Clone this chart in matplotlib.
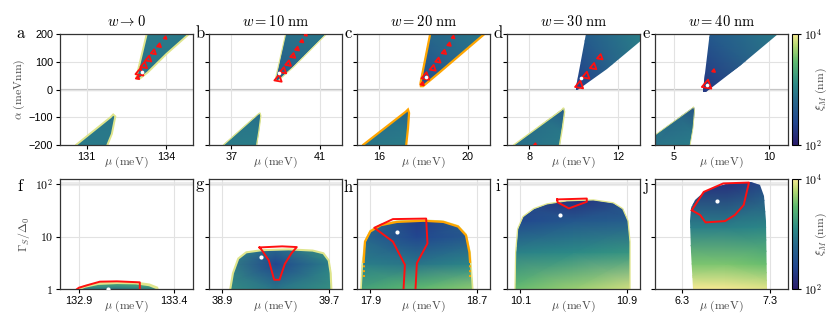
import numpy as np
import matplotlib
matplotlib.use("Agg")
import matplotlib.pyplot as plt
from matplotlib.colors import LinearSegmentedColormap, Normalize, LogNorm
from matplotlib.patches import Polygon
from matplotlib.colorbar import ColorbarBase
from matplotlib.ticker import NullLocator

plt.rcParams["mathtext.fontset"] = "cm"
plt.rcParams["font.family"] = ["Liberation Sans", "DejaVu Sans"]

# ---------------- top row: alpha vs mu ----------------
titles = [r"$w \to 0$", r"$w = 10\ \mathrm{nm}$", r"$w = 20\ \mathrm{nm}$",
          r"$w = 30\ \mathrm{nm}$", r"$w = 40\ \mathrm{nm}$"]
top_letters = ["a", "b", "c", "d", "e"]
top_xlim = [(130, 135), (36, 42), (15, 21), (7, 13), (4, 11)]
top_xticks = [[131, 134], [37, 41], [16, 20], [8, 12], [5, 10]]
alpha_ticks = [-200, -100, 0, 100, 200]

upper_wedges = [
    [(132.88, 48), (132.9, 40), (132.98, 38), (133.3, 62), (134.0, 128), (134.85, 200), (134.9, 240), (133.36, 240)],
    [(39.0, 40), (39.03, 32), (39.12, 32), (39.8, 80), (41.3, 200), (41.5, 240), (39.57, 240)],
    [(17.86, 22), (17.88, 12), (17.98, 12), (18.7, 60), (20.75, 200), (20.9, 240), (18.4, 240)],
    [(10.1, 10), (10.13, 0), (10.25, 2), (11.5, 75), (13.4, 200), (13.8, 240), (10.66, 240)],
    [(6.52, 0), (6.55, -10), (6.68, -8), (8.5, 90), (10.49, 200), (10.8, 240), (6.93, 240)],
]
lower_wedges = [
    [(130.45, -240), (130.6, -200), (131.9, -100), (132.0, -90), (132.08, -97), (131.95, -160), (131.78, -200), (131.72, -240)],
    [(36.5, -240), (36.65, -200), (38.2, -90), (38.3, -84), (38.34, -95), (38.25, -150), (38.15, -200), (38.12, -240)],
    [(15.1, -240), (15.27, -200), (17.2, -80), (17.3, -72), (17.35, -85), (17.3, -140), (17.22, -200), (17.2, -240)],
    [(7.1, -240), (7.3, -200), (9.45, -75), (9.55, -66), (9.6, -80), (9.5, -140), (9.37, -200), (9.35, -240)],
    [(2.4, -240), (4.0, -164), (5.95, -68), (6.03, -62), (6.08, -75), (6.0, -140), (5.85, -200), (5.82, -240)],
]
top_mu_nodes = [[130, 132.9, 135], [36, 39.05, 42], [15, 17.9, 21], [7, 10.15, 13], [4, 6.6, 11]]
top_alpha_nodes = [-200, 0, 200]
top_log_xi = [
    [[2.95, 2.95, 2.95], [2.95, 2.85, 2.95], [2.95, 2.95, 2.95]],
    [[2.95, 3.0, 3.0], [3.0, 2.6, 2.9], [3.0, 2.85, 2.95]],
    [[2.9, 3.0, 3.0], [3.0, 2.45, 2.9], [3.0, 2.75, 2.95]],
    [[2.85, 3.0, 3.0], [3.1, 2.35, 2.9], [3.0, 2.6, 3.0]],
    [[2.9, 3.0, 3.0], [2.95, 2.25, 2.9], [3.0, 2.6, 3.0]],
]
loop_mu = [
    [132.92, 133.0, 133.16, 133.33, 133.52, 133.73, 133.96],
    [39.13, 39.35, 39.58, 39.79, 39.98, 40.19, 40.37],
    [17.95, 18.1, 18.43, 18.66, 18.93, 19.16, 19.34],
    [10.27, 10.57, 10.9, 11.2, 8.27],
    [6.74, 7.09],
]
loop_alpha = [
    [42, 61, 86, 109, 134, 158, 186],
    [38, 67, 93, 121, 146, 174, 197],
    [20, 46, 76, 104, 134, 162, 188],
    [15, 49, 82, 116, -200],
    [16, 67],
]
top_dot_mu = [133.07, 39.16, 18.13, 10.36, 6.74]
top_dot_alpha = [62, 60, 46, 40, 18]

# ---------------- bottom row: Gamma_S/Delta_0 vs mu ----------------
bottom_letters = ["f", "g", "h", "i", "j"]
bottom_xlim = [(132.8, 133.5), (38.8, 39.8), (17.8, 18.8), (10.0, 11.0), (6.0, 7.5)]
bottom_xticks = [[132.9, 133.4], [38.9, 39.7], [17.9, 18.7], [10.1, 10.9], [6.3, 7.3]]
gamma_ticks = [1, 10, 100]
gamma_ticklabels = [r"$1$", r"$10$", r"$10^2$"]

domes = [
    [(132.9, 0.8), (132.9, 1.0), (132.93, 1.12), (133.0, 1.27), (133.1, 1.32), (133.2, 1.3),
     (133.27, 1.2), (133.31, 1.05), (133.32, 0.8)],
    [(38.96, 0.8), (38.96, 1.0), (38.98, 2.0), (39.02, 3.8), (39.08, 5.0), (39.2, 5.5), (39.4, 5.7),
     (39.58, 5.4), (39.66, 4.8), (39.7, 3.5), (39.715, 2.0), (39.72, 1.0), (39.72, 0.8)],
    [(17.83, 0.8), (17.83, 1.0), (17.84, 3.0), (17.86, 8), (17.9, 13), (17.98, 17), (18.1, 19.5),
     (18.3, 20.5), (18.45, 19.5), (18.56, 16), (18.62, 11), (18.65, 5), (18.67, 1.0), (18.67, 0.8)],
    [(10.06, 0.8), (10.06, 1), (10.065, 5), (10.08, 14), (10.12, 24), (10.2, 34), (10.3, 42),
     (10.45, 48), (10.65, 50), (10.8, 44), (10.87, 34), (10.91, 20), (10.925, 8), (10.925, 1), (10.925, 0.8)],
    [(6.43, 0.8), (6.43, 1), (6.41, 5), (6.396, 20), (6.41, 35), (6.45, 50), (6.55, 72), (6.7, 92),
     (6.9, 104), (7.08, 108), (7.18, 95), (7.23, 60), (7.25, 20), (7.265, 1), (7.265, 0.8)],
]
bottom_mu_nodes = [[132.8, 133.1, 133.5], [38.8, 39.3, 39.8], [17.8, 18.25, 18.8],
                   [10.0, 10.5, 11.0], [6.0, 6.8, 7.5]]
bottom_gamma_nodes = [[1, 1.3, 125], [1, 3, 6, 125], [1, 3, 10, 20, 125],
                      [1, 5, 20, 50, 125], [1, 3, 15, 100, 125]]
bottom_log_xi = [
    [[3.1, 2.9, 3.2], [3.4, 3.4, 3.5], [3.5, 3.5, 3.5]],
    [[3.2, 2.9, 3.2], [3.2, 2.4, 3.1], [3.2, 2.8, 3.3], [3.3, 3.3, 3.3]],
    [[3.3, 3.5, 3.7], [3.0, 2.9, 3.1], [2.8, 2.4, 2.7], [3.0, 2.3, 2.9], [3.0, 2.9, 3.0]],
    [[3.5, 3.7, 3.9], [3.0, 3.1, 3.2], [2.4, 2.6, 2.7], [2.7, 2.2, 2.6], [2.7, 2.4, 2.7]],
    [[4.0, 4.0, 3.9], [3.6, 3.6, 3.5], [3.0, 3.0, 3.1], [2.2, 2.2, 2.6], [2.2, 2.2, 2.6]],
]
red_curves = [
    [(132.89, 1.0), (132.9, 1.06), (132.95, 1.2), (133.01, 1.38), (133.1, 1.4), (133.22, 1.34), (133.22, 1.0)],
    [(39.18, 6.2), (39.2, 5.4), (39.25, 3.5), (39.29, 1.5), (39.33, 1.5), (39.37, 3.0), (39.42, 4.8),
     (39.46, 6.3), (39.35, 6.5), (39.18, 6.2)],
    [(18.15, 1.0), (18.16, 2.9), (18.07, 8.0), (17.93, 14.7), (18.07, 21.5), (18.32, 22), (18.33, 7.4),
     (18.25, 3.1), (18.24, 1.0)],
    [(10.377, 51), (10.6, 53), (10.6, 46), (10.465, 34.4), (10.38, 45), (10.377, 51)],
    [(6.415, 31.8), (6.55, 71), (6.77, 103), (7.06, 107), (7.0, 39.8), (6.9, 25.7), (6.79, 19.7),
     (6.57, 18.6), (6.51, 25.7), (6.415, 31.8)],
]
bottom_dot_mu = [133.05, 39.19, 18.1, 10.4, 6.7]
bottom_dot_gamma = [1.02, 4.0, 12.0, 25.7, 48]
orange_h = [(17.85, 3.3), (17.86, 8), (17.9, 12.5), (17.98, 16.5), (18.1, 19), (18.3, 20),
            (18.45, 19), (18.56, 15.5), (18.62, 10.5), (18.645, 5), (18.65, 3.3)]
orange_h_dotted = [[(17.85, 1.7), (17.85, 3.3)], [(18.65, 1.7), (18.65, 3.3)]]

# ---------------- style ----------------
cmap = LinearSegmentedColormap.from_list(
    "xi", [(0.0, "#2a1b6b"), (0.2, "#22468f"), (0.4, "#27688b"), (0.55, "#2c8a86"),
           (0.75, "#5db96e"), (0.9, "#b8da72"), (1.0, "#f7ea92")])
norm = Normalize(2, 4)
RIM = "#dfe58c"
ORANGE = "#ffa500"
RED = "#ff1010"
top_rims = [(RIM, 1.4, RIM, 1.4), (RIM, 0.8, RIM, 0.9), (ORANGE, 1.6, ORANGE, 1.6),
            ("none", 0, RIM, 1.0), ("none", 0, RIM, 0.6)]
bottom_rims = [(RIM, 2.0), (RIM, 1.5), (RIM, 1.2), (RIM, 0.9), ("none", 0)]
loop_sizes = [[8, 44, 32, 26, 18, 11, 5], [38, 30, 24, 18, 11, 7, 4],
              [8, 44, 26, 20, 14, 9, 5], [46, 38, 30, 22, 6], [64, 6]]
LABEL_GRAY = "#4a4a4a"

fig = plt.figure(figsize=(8.3, 3.27), dpi=100)
lefts = [60, 209, 357, 507, 655]
W, H = 830.0, 327.0


def shade(ax, verts, mu_nodes, y_nodes, log_xi, edge, lw):
    X, Y = np.meshgrid(mu_nodes, y_nodes)
    mesh = ax.pcolormesh(X, Y, np.array(log_xi), shading="gouraud", cmap=cmap, norm=norm, zorder=1)
    patch = Polygon(verts, closed=True, facecolor="none", edgecolor=edge, linewidth=lw, zorder=2)
    ax.add_patch(patch)
    mesh.set_clip_path(patch)


def style(ax):
    ax.grid(color="#e2e2e2", linewidth=0.8)
    ax.set_axisbelow(True)
    for sp in ax.spines.values():
        sp.set_color("#333333")
        sp.set_linewidth(0.9)
    ax.tick_params(direction="out", length=3, width=0.8, labelsize=7.8, pad=2)


for i in range(5):
    ax = fig.add_axes([lefts[i] / W, 1 - 145 / H, 133 / W, 111 / H])
    style(ax)
    ax.axhline(0, color="#c4c4c4", linewidth=1.6, zorder=0.5)
    ue, ulw, le, llw = top_rims[i]
    shade(ax, upper_wedges[i], top_mu_nodes[i], top_alpha_nodes, top_log_xi[i], ue, ulw)
    shade(ax, lower_wedges[i], top_mu_nodes[i], top_alpha_nodes, top_log_xi[i], le, llw)
    for m, a, s in zip(loop_mu[i], loop_alpha[i], loop_sizes[i]):
        ax.scatter([m], [a], s=s, marker=(3, 0, 110), facecolors="none", edgecolors=RED,
                   linewidths=1.3, zorder=4)
    ax.scatter([top_dot_mu[i]], [top_dot_alpha[i]], s=7, color="white", zorder=5, linewidths=0)
    ax.set_xlim(*top_xlim[i])
    ax.set_ylim(-200, 200)
    ax.set_xticks(top_xticks[i])
    ax.set_yticks(alpha_ticks)
    if i == 0:
        ax.set_ylabel(r"$\alpha\ (\mathrm{meVnm})$", fontsize=8.5, color=LABEL_GRAY, labelpad=1)
    else:
        ax.set_yticklabels([])
    ax.set_xlabel(r"$\mu\ (\mathrm{meV})$", fontsize=8.5, color=LABEL_GRAY, labelpad=-5)
    ax.set_title(titles[i], fontsize=10.5, pad=6)
    lx = 21 if i == 0 else lefts[i] - 9
    fig.text(lx / W, 1 - 33 / H, r"$\mathrm{%s}$" % top_letters[i], fontsize=12, ha="center", va="center")

for i in range(5):
    ax = fig.add_axes([lefts[i] / W, 1 - 289 / H, 133 / W, 110 / H])
    ax.set_yscale("log")
    style(ax)
    ax.axhline(100, color="#ececec", linewidth=3, zorder=0.5)
    edge, lw = bottom_rims[i]
    shade(ax, domes[i], bottom_mu_nodes[i], bottom_gamma_nodes[i], bottom_log_xi[i], edge, lw)
    if i == 2:
        xs, ys = zip(*orange_h)
        ax.plot(xs, ys, color=ORANGE, linewidth=1.6, zorder=3)
        for seg in orange_h_dotted:
            xs, ys = zip(*seg)
            ax.plot(xs, ys, color=ORANGE, linewidth=1.4, linestyle=(0, (1, 1.5)), zorder=3)
    xs, ys = zip(*red_curves[i])
    ax.plot(xs, ys, color=RED, linewidth=1.4, zorder=4)
    ax.scatter([bottom_dot_mu[i]], [bottom_dot_gamma[i]], s=9, color="white", zorder=5, linewidths=0)
    ax.set_xlim(*bottom_xlim[i])
    ax.set_ylim(1, 125)
    ax.set_xticks(bottom_xticks[i])
    ax.set_xticklabels([str(t) for t in bottom_xticks[i]])
    ax.set_yticks(gamma_ticks)
    ax.yaxis.set_minor_locator(NullLocator())
    if i == 0:
        ax.set_yticklabels(gamma_ticklabels, fontsize=8.5)
        ax.set_ylabel(r"$\Gamma_S/\Delta_0$", fontsize=8.5, color=LABEL_GRAY, labelpad=2)
    else:
        ax.set_yticklabels([])
    ax.set_xlabel(r"$\mu\ (\mathrm{meV})$", fontsize=8.5, color=LABEL_GRAY, labelpad=-5)
    lx = 21 if i == 0 else lefts[i] - 9
    fig.text(lx / W, 1 - 186 / H, r"$\mathrm{%s}$" % bottom_letters[i], fontsize=12, ha="center", va="center")

for top, bot in [(34, 145), (179, 289)]:
    cax = fig.add_axes([792 / W, 1 - bot / H, 6 / W, (bot - top) / H])
    cb = ColorbarBase(cax, cmap=cmap, norm=LogNorm(1e2, 1e4))
    cb.set_ticks([1e2, 1e4])
    cb.set_ticklabels([r"$10^2$", r"$10^4$"])
    cax.yaxis.set_minor_locator(NullLocator())
    cax.tick_params(labelsize=8.5, length=2.5, width=0.8, pad=2)
    cb.outline.set_linewidth(0.8)
    cb.set_label(r"$\xi_M\ (\mathrm{nm})$", fontsize=8.5, color=LABEL_GRAY)
    cax.yaxis.set_label_coords(3.6, 0.5)

fig.savefig("out.png", dpi=100)
